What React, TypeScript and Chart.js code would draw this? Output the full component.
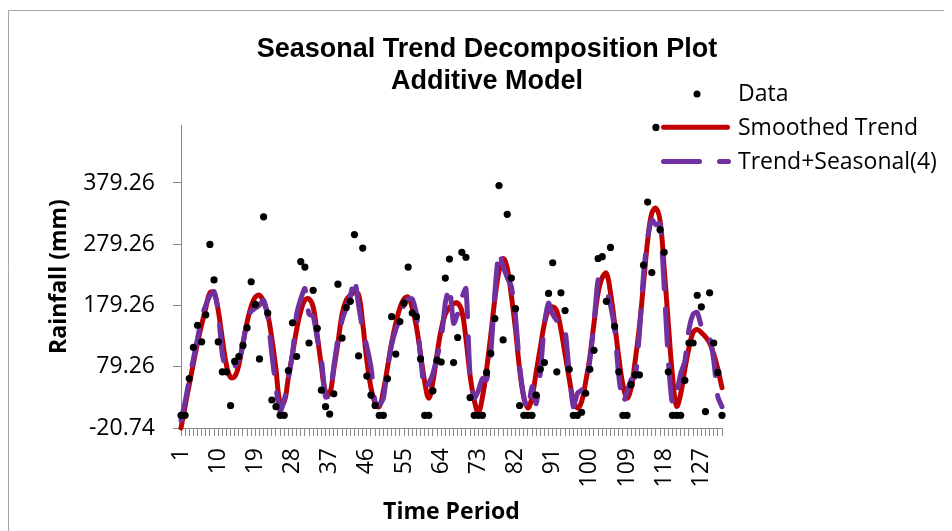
import React, { useEffect, useRef } from 'react';
import { Chart, registerables } from 'chart.js';

Chart.register(...registerables);

// Time period index (1..132)
const timePeriods: number[] = Array.from({ length: 132 }, (_, i) => i + 1);
const xTickLabels: string[] = ['1', '10', '19', '28', '37', '46', '55', '64', '73', '82', '91', '100', '109', '118', '127'];
const yTickValues: number[] = [-20.74, 79.26, 179.26, 279.26, 379.26];
const yMin = -20.74;
const yMax = 473.9;

const titleLines: string[] = ['Seasonal Trend Decomposition Plot', 'Additive Model'];
const seriesNames: string[] = ['Data', 'Smoothed Trend', 'Trend+Seasonal(4)'];
const xTitle = 'Time Period';
const yTitle = 'Rainfall (mm)';

const rainfallData: number[] = [
  0, 0, 60, 111, 147, 120, 164, 279, 221, 120,
  71, 71, 16, 88, 96, 114, 143, 218, 181, 92,
  324, 167, 25, 14, 0, 0, 73, 151, 96, 251,
  242, 118, 204, 142, 41, 14, 2, 35, 214, 126,
  176, 186, 295, 97, 273, 64, 33, 16, 0, 0,
  60, 161, 100, 153, 183, 242, 167, 161, 92, 0,
  0, 40, 90, 87, 224, 255, 86, 127, 266, 258,
  29, 0, 0, 0, 70, 101, 158, 375, 123, 328,
  224, 174, 16, 0, 0, 0, 33, 75, 86, 199,
  249, 71, 200, 171, 75, 0, 0, 5, 36, 75,
  106, 256, 259, 186, 274, 145, 71, 0, 0, 50,
  66, 66, 245, 348, 233, 470, 303, 266, 71, 0,
  0, 0, 57, 118, 118, 196, 177, 6, 200, 118,
  70, 0,
];

const smoothedTrend: number[] = [
  -20.74, 15, 50, 85, 118, 148, 175, 200, 200, 172,
  125, 82, 62, 63, 82, 118, 152, 178, 193, 196,
  185, 165, 125, 75, 20, 22, 62, 100, 140, 170,
  188, 190, 177, 130, 80, 38, 35, 75, 118, 165,
  188, 196, 200, 197, 150, 90, 45, 20, 14, 40,
  78, 118, 150, 175, 190, 193, 175, 145, 100, 55,
  28, 55, 100, 140, 165, 176, 182, 183, 170, 125,
  65, 25, 5, 30, 75, 130, 190, 235, 256, 240,
  195, 140, 75, 30, 12, 30, 70, 110, 150, 172,
  177, 170, 140, 100, 60, 25, 12, 22, 55, 95,
  150, 200, 225, 232, 200, 150, 95, 50, 28, 45,
  90, 145, 215, 285, 330, 338, 318, 240, 150, 65,
  15, 35, 75, 110, 135, 140, 135, 128, 118, 100,
  75, 45,
];

const trendSeasonal: number[] = [
  -8, 22, 58, 92, 125, 160, 180, 195, 202, 170,
  100, 74, 75, 80, 90, 115, 158, 170, 175, 180,
  188, 160, 100, 45, 6, 25, 60, 100, 165, 190,
  207, 165, 162, 125, 92, 30, 32, 80, 125, 155,
  175, 194, 224, 180, 140, 112, 79, 22, 17, 28,
  77, 115, 140, 158, 180, 190, 190, 165, 96, 41,
  52, 68, 95, 123, 183, 210, 150, 166, 192, 207,
  63, 28, 40, 60, 58, 101, 200, 267, 243, 225,
  210, 161, 80, 30, 9, 47, 19, 68, 150, 183,
  165, 155, 155, 140, 70, 14, 36, 41, 52, 90,
  150, 221, 212, 204, 180, 140, 65, 20, 38, 58,
  63, 134, 230, 290, 319, 311, 313, 210, 90, 19,
  36, 68, 88, 140, 165, 168, 145, 128, 126, 90,
  30, 14,
];

const FONT = "'Open Sans', 'Noto Sans', sans-serif";

const decorPlugin = {
  id: 'decor',
  beforeDraw(chart: any) {
    const ctx = chart.ctx;
    ctx.save();
    ctx.fillStyle = '#ffffff';
    ctx.fillRect(0, 0, chart.width, chart.height);
    ctx.strokeStyle = '#a6a6a6';
    ctx.lineWidth = 1;
    ctx.beginPath();
    ctx.moveTo(0.5, chart.height);
    ctx.lineTo(0.5, 2.5);
    ctx.lineTo(chart.width, 2.5);
    ctx.stroke();
    ctx.restore();
  },
  afterDraw(chart: any) {
    const ctx = chart.ctx;
    const ds = chart.data.datasets;
    ctx.save();
    // Title
    ctx.fillStyle = '#000';
    ctx.textAlign = 'center';
    ctx.textBaseline = 'alphabetic';
    ctx.font = "bold 27px 'Liberation Sans', Arial, sans-serif";
    ctx.fillText(titleLines[0], 479, 49);
    ctx.fillText(titleLines[1], 479, 81);

    // Legend
    ctx.textAlign = 'left';
    ctx.font = `23px ${FONT}`;
    const textX = 730;
    // Data
    ctx.fillStyle = ds[0].pointBackgroundColor;
    ctx.beginPath();
    ctx.arc(689, 86, 3.5, 0, Math.PI * 2);
    ctx.fill();
    ctx.fillStyle = '#000';
    ctx.fillText(seriesNames[0], textX, 92.5);
    // Smoothed trend
    ctx.strokeStyle = ds[1].borderColor;
    ctx.lineWidth = ds[1].borderWidth;
    ctx.lineCap = 'round';
    ctx.beginPath();
    ctx.moveTo(655.5, 119.3);
    ctx.lineTo(719.5, 119.3);
    ctx.stroke();
    ctx.fillText(seriesNames[1], textX, 127);
    // Trend + seasonal
    ctx.strokeStyle = ds[2].borderColor;
    ctx.lineWidth = ds[2].borderWidth;
    ctx.setLineDash(ds[2].borderDash);
    ctx.beginPath();
    ctx.moveTo(655.5, 153.5);
    ctx.lineTo(720.5, 153.5);
    ctx.stroke();
    ctx.setLineDash([]);
    ctx.fillText(seriesNames[2], textX, 160.5);
    ctx.restore();
  },
};

export default function App() {
  const canvasRef = useRef<HTMLCanvasElement | null>(null);

  useEffect(() => {
    document.body.style.overflow = 'hidden';
    const canvas = canvasRef.current;
    if (!canvas) return;
    const labelSet = new Set(xTickLabels);
    const axisColor = '#898989';

    const chart = new Chart(canvas, {
      type: 'line',
      data: {
        labels: timePeriods.map(String),
        datasets: [
          {
            label: seriesNames[0],
            data: rainfallData,
            showLine: false,
            pointRadius: 3.6,
            pointHoverRadius: 3.6,
            pointBackgroundColor: '#000000',
            pointBorderColor: '#000000',
            pointBorderWidth: 0,
            borderColor: '#000000',
            order: 0,
            clip: false,
          } as any,
          {
            label: seriesNames[1],
            data: smoothedTrend,
            borderColor: '#C00000',
            backgroundColor: '#C00000',
            borderWidth: 5,
            pointRadius: 0,
            tension: 0.4,
            borderCapStyle: 'round',
            borderJoinStyle: 'round',
            order: 2,
            clip: false,
          } as any,
          {
            label: seriesNames[2],
            data: trendSeasonal,
            borderColor: '#7030A0',
            backgroundColor: '#7030A0',
            borderWidth: 5,
            borderDash: [36, 20],
            borderCapStyle: 'round',
            borderJoinStyle: 'round',
            pointRadius: 0,
            tension: 0.2,
            order: 1,
            clip: false,
          } as any,
        ],
      },
      options: {
        responsive: false,
        animation: false,
        events: [],
        layout: { padding: { left: 0, top: 117, right: 230, bottom: 0 } },
        plugins: {
          legend: { display: false },
          title: { display: false },
          tooltip: { enabled: false },
        },
        scales: {
          x: {
            type: 'category',
            offset: false,
            grid: {
              display: true,
              drawOnChartArea: false,
              drawTicks: true,
              tickLength: 8,
              color: axisColor,
            },
            border: { display: true, color: axisColor, width: 1 },
            ticks: {
              autoSkip: false,
              maxRotation: 90,
              minRotation: 90,
              padding: 12,
              color: '#000',
              font: { family: FONT, size: 23 },
              callback: function (this: any, _v: any, index: number) {
                const lab = String(timePeriods[index]);
                return labelSet.has(lab) ? lab : '';
              },
            },
            title: {
              display: true,
              text: xTitle,
              color: '#000',
              font: { family: FONT, size: 23, weight: 'bold' },
              padding: { top: 0, bottom: 5 },
            },
            afterFit: (scale: any) => {
              scale.height = 103;
            },
          },
          y: {
            type: 'linear',
            min: yMin,
            max: yMax,
            grid: {
              display: true,
              drawOnChartArea: false,
              drawTicks: true,
              tickLength: 8,
              color: axisColor,
            },
            border: { display: true, color: axisColor, width: 1 },
            afterBuildTicks: (scale: any) => {
              scale.ticks = yTickValues.map((v) => ({ value: v }));
            },
            ticks: {
              padding: 18,
              color: '#000',
              font: { family: FONT, size: 23 },
              callback: (v: any) => Number(v).toFixed(2),
            },
            title: {
              display: true,
              text: yTitle,
              color: '#000',
              font: { family: FONT, size: 23, weight: 'bold' },
              padding: { top: 38, bottom: 0 },
            },
            afterFit: (scale: any) => {
              scale.width = 173;
            },
          },
        },
      } as any,
      plugins: [decorPlugin],
    });

    return () => {
      chart.destroy();
    };
  }, []);

  return (
    <div style={{ width: 944, height: 523 }}>
      <canvas ref={canvasRef} width={944} height={523} style={{ display: 'block' }} />
    </div>
  );
}
